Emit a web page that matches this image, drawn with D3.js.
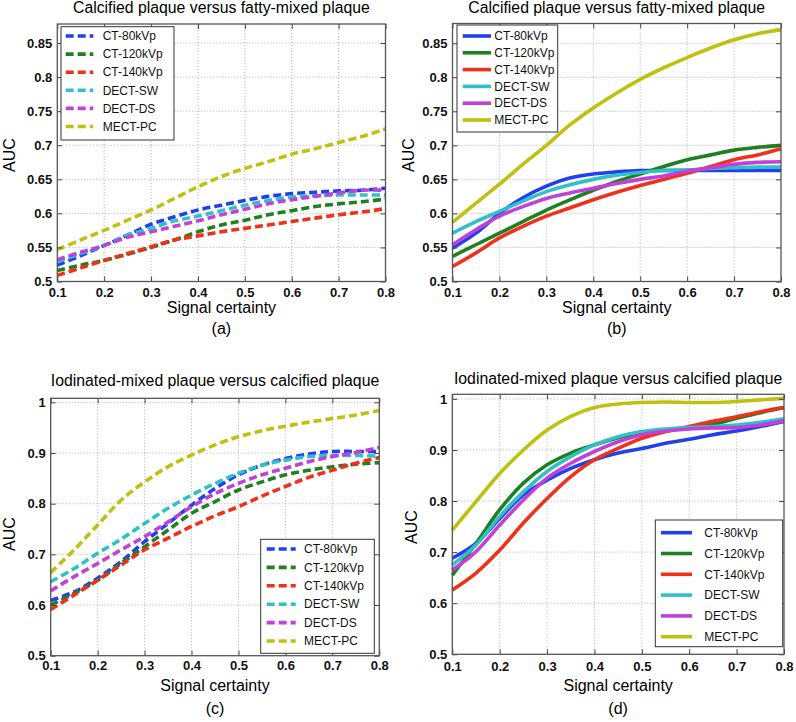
<!DOCTYPE html>
<html>
<head>
<meta charset="utf-8">
<script src="https://cdn.jsdelivr.net/npm/d3@7"></script>
<style>
  body { margin: 0; background: #fff; }
  svg { font-family: "Liberation Sans", Arial, Helvetica, sans-serif; }
</style>
</head>
<body>
<div id="chart"></div>
<script>
var svgWidth = 796;
var svgHeight = 722;

// x values (signal certainty)
var signal = [0.1, 0.15, 0.2, 0.25, 0.3, 0.35, 0.4, 0.45, 0.5, 0.55, 0.6, 0.65, 0.7, 0.75, 0.8];
var seriesNames = ["CT-80kVp", "CT-120kVp", "CT-140kVp", "DECT-SW", "DECT-DS", "MECT-PC"];
var seriesColors = ["#2040f0", "#1e8020", "#f03018", "#30c0c8", "#c040d8", "#c0c010"];

var titles = [
  "Calcified plaque versus fatty-mixed plaque",
  "Calcified plaque versus fatty-mixed plaque",
  "Iodinated-mixed plaque versus calcified plaque",
  "Iodinated-mixed plaque versus calcified plaque"
];
var panelTags = ["(a)", "(b)", "(c)", "(d)"];
var xTicks = [0.1, 0.2, 0.3, 0.4, 0.5, 0.6, 0.7, 0.8];
var yTicksTop = [0.5, 0.55, 0.6, 0.65, 0.7, 0.75, 0.8, 0.85];
var yTicksBottom = [0.5, 0.6, 0.7, 0.8, 0.9, 1];

// (a) dashed
var a_ct80  = [0.524, 0.538, 0.553, 0.568, 0.584, 0.595, 0.605, 0.612, 0.619, 0.625, 0.629, 0.631, 0.633, 0.634, 0.637];
var a_ct120 = [0.516, 0.524, 0.531, 0.540, 0.550, 0.561, 0.573, 0.583, 0.590, 0.598, 0.604, 0.610, 0.614, 0.617, 0.621];
var a_ct140 = [0.509, 0.520, 0.531, 0.541, 0.551, 0.561, 0.567, 0.573, 0.578, 0.583, 0.588, 0.593, 0.598, 0.602, 0.607];
var a_sw    = [0.529, 0.541, 0.553, 0.568, 0.578, 0.589, 0.596, 0.604, 0.612, 0.619, 0.624, 0.626, 0.627, 0.627, 0.627];
var a_ds    = [0.532, 0.543, 0.553, 0.565, 0.573, 0.581, 0.589, 0.598, 0.606, 0.614, 0.620, 0.625, 0.630, 0.634, 0.634];
var a_pc    = [0.547, 0.561, 0.575, 0.590, 0.605, 0.622, 0.639, 0.654, 0.666, 0.676, 0.687, 0.695, 0.704, 0.713, 0.724];

// (b) solid
var b_ct80  = [0.549, 0.571, 0.600, 0.623, 0.640, 0.652, 0.658, 0.661, 0.663, 0.663, 0.663, 0.663, 0.663, 0.663, 0.663];
var b_ct120 = [0.537, 0.554, 0.571, 0.588, 0.605, 0.620, 0.634, 0.647, 0.658, 0.669, 0.679, 0.686, 0.693, 0.697, 0.700];
var b_ct140 = [0.522, 0.542, 0.564, 0.581, 0.596, 0.608, 0.620, 0.631, 0.641, 0.650, 0.659, 0.669, 0.679, 0.686, 0.695];
var b_sw    = [0.571, 0.588, 0.603, 0.618, 0.632, 0.642, 0.650, 0.656, 0.660, 0.663, 0.664, 0.666, 0.667, 0.668, 0.668];
var b_ds    = [0.554, 0.576, 0.596, 0.610, 0.622, 0.630, 0.637, 0.644, 0.650, 0.655, 0.662, 0.667, 0.672, 0.675, 0.676];
var b_pc    = [0.587, 0.615, 0.643, 0.672, 0.700, 0.730, 0.755, 0.777, 0.797, 0.814, 0.829, 0.843, 0.855, 0.864, 0.870];

// (c) dashed
var c_ct80  = [0.609, 0.626, 0.653, 0.686, 0.725, 0.761, 0.797, 0.830, 0.857, 0.876, 0.889, 0.898, 0.903, 0.903, 0.903];
var c_ct120 = [0.600, 0.623, 0.649, 0.682, 0.715, 0.748, 0.781, 0.804, 0.827, 0.843, 0.857, 0.866, 0.873, 0.878, 0.881];
var c_ct140 = [0.591, 0.620, 0.649, 0.679, 0.709, 0.732, 0.755, 0.776, 0.794, 0.815, 0.834, 0.852, 0.866, 0.880, 0.891];
var c_sw    = [0.646, 0.672, 0.702, 0.730, 0.761, 0.791, 0.817, 0.840, 0.860, 0.876, 0.886, 0.893, 0.895, 0.895, 0.894];
var c_ds    = [0.628, 0.656, 0.682, 0.709, 0.735, 0.764, 0.794, 0.820, 0.840, 0.857, 0.870, 0.883, 0.893, 0.901, 0.911];
var c_pc    = [0.664, 0.709, 0.758, 0.807, 0.843, 0.873, 0.896, 0.916, 0.932, 0.944, 0.953, 0.961, 0.968, 0.975, 0.984];

// (d) solid
var d_ct80  = [0.688, 0.717, 0.766, 0.812, 0.841, 0.864, 0.881, 0.894, 0.903, 0.913, 0.921, 0.930, 0.937, 0.946, 0.956];
var d_ct120 = [0.655, 0.717, 0.783, 0.835, 0.871, 0.894, 0.910, 0.924, 0.934, 0.939, 0.943, 0.950, 0.962, 0.973, 0.983];
var d_ct140 = [0.626, 0.659, 0.704, 0.757, 0.805, 0.848, 0.881, 0.903, 0.923, 0.936, 0.946, 0.956, 0.965, 0.975, 0.983];
var d_sw    = [0.675, 0.714, 0.770, 0.818, 0.858, 0.887, 0.910, 0.926, 0.936, 0.941, 0.944, 0.946, 0.949, 0.954, 0.961];
var d_ds    = [0.665, 0.701, 0.753, 0.802, 0.845, 0.874, 0.897, 0.916, 0.930, 0.937, 0.941, 0.943, 0.944, 0.949, 0.957];
var d_pc    = [0.743, 0.799, 0.854, 0.900, 0.939, 0.966, 0.983, 0.990, 0.993, 0.994, 0.993, 0.993, 0.995, 0.998, 1.001];

// layout of each panel (pixels)
var panels = [
  { left: 57.3, right: 385.5, top: 24, bottom: 281.5, yMax: 0.878, yTicks: yTicksTop, dashed: true,
    series: [a_ct80, a_ct120, a_ct140, a_sw, a_ds, a_pc],
    titleY: 13, tickPad: 6.3, xlabY: 313, aucX: 15, aucY: 155, tagY: 334,
    legend: { x0: 61, y0: 26.7, x1: 174, y1: 140, first: 36, step: 18.1, l0: 65.7, l1: 93.3, tx: 102.7 } },
  { left: 452.5, right: 781, top: 23.5, bottom: 281.5, yMax: 0.879, yTicks: yTicksTop, dashed: false,
    series: [b_ct80, b_ct120, b_ct140, b_sw, b_ds, b_pc],
    titleY: 13, tickPad: 6.3, xlabY: 313, aucX: 414, aucY: 155, tagY: 334,
    legend: { x0: 457, y0: 25, x1: 557.7, y1: 132, first: 36, step: 16.8, l0: 462.7, l1: 491, tx: 494.3 } },
  { left: 50.7, right: 379.3, top: 398.3, bottom: 655.7, yMax: 1.008, yTicks: yTicksBottom, dashed: true,
    series: [c_ct80, c_ct120, c_ct140, c_sw, c_ds, c_pc],
    titleY: 386, tickPad: 5.5, xlabY: 691, aucX: 15, aucY: 534, tagY: 714,
    legend: { x0: 260.7, y0: 539.3, x1: 374.3, y1: 653.3, first: 549, step: 18.4, l0: 266.7, l1: 295.7, tx: 304 } },
  { left: 452.3, right: 784, top: 394.3, bottom: 654.3, yMax: 1.009, yTicks: yTicksBottom, dashed: false,
    series: [d_ct80, d_ct120, d_ct140, d_sw, d_ds, d_pc],
    titleY: 383.5, tickPad: 7, xlabY: 691, aucX: 417, aucY: 527, tagY: 714,
    legend: { x0: 655.3, y0: 520, x1: 782.7, y1: 646.7, first: 532.7, step: 20.8, l0: 661, l1: 692, tx: 704.3 } }
];

var svg = d3.select("#chart")
  .append("svg")
  .attr("width", svgWidth)
  .attr("height", svgHeight);

var fmt = function(d) { return String(+d.toFixed(2)); };

panels.forEach(function(p, i) {
  var w = p.right - p.left;
  var h = p.bottom - p.top;
  var xScale = d3.scaleLinear().domain([0.1, 0.8]).range([0, w]);
  var yScale = d3.scaleLinear().domain([0.5, p.yMax]).range([h, 0]);

  var g = svg.append("g").attr("transform", `translate(${p.left}, ${p.top})`);

  // dotted grid
  g.append("g").selectAll("line")
    .data(xTicks.slice(1, -1))
    .enter().append("line")
    .attr("x1", d => xScale(d)).attr("x2", d => xScale(d))
    .attr("y1", 0).attr("y2", h)
    .attr("stroke", "#9a9a9a").attr("stroke-width", 0.8)
    .attr("stroke-dasharray", "1,2");
  g.append("g").selectAll("line")
    .data(p.yTicks.slice(1))
    .enter().append("line")
    .attr("x1", 0).attr("x2", w)
    .attr("y1", d => yScale(d)).attr("y2", d => yScale(d))
    .attr("stroke", "#9a9a9a").attr("stroke-width", 0.8)
    .attr("stroke-dasharray", "1,2");

  // curves
  var line = d3.line()
    .x((d, j) => xScale(signal[j]))
    .y(d => yScale(d))
    .curve(d3.curveCatmullRom.alpha(0.5));

  p.series.forEach(function(s, k) {
    g.append("path")
      .datum(s)
      .attr("d", line)
      .attr("fill", "none")
      .attr("stroke", seriesColors[k])
      .attr("stroke-width", 3.6)
      .attr("stroke-dasharray", p.dashed ? "8,4" : null);
  });

  // axes with inward ticks
  var bottomAxis = d3.axisBottom(xScale).tickValues(xTicks).tickSize(-5).tickPadding(p.tickPad).tickFormat(fmt);
  var leftAxis = d3.axisLeft(yScale).tickValues(p.yTicks).tickSize(-5).tickPadding(5).tickFormat(fmt);
  var topAxis = d3.axisTop(xScale).tickValues(xTicks).tickSize(-5).tickFormat("");
  var rightAxis = d3.axisRight(yScale).tickValues(p.yTicks).tickSize(-5).tickFormat("");

  [
    g.append("g").attr("transform", `translate(0, ${h})`).call(bottomAxis),
    g.append("g").call(leftAxis),
    g.append("g").call(topAxis),
    g.append("g").attr("transform", `translate(${w}, 0)`).call(rightAxis)
  ].forEach(function(ax) {
    ax.select(".domain").remove();
    ax.selectAll("line").attr("stroke", "#444");
    ax.selectAll("text")
      .attr("fill", "#111")
      .style("font-size", "13px")
      .style("font-weight", "bold");
  });

  // frame
  g.append("rect")
    .attr("width", w).attr("height", h)
    .attr("fill", "none")
    .attr("stroke", "#555")
    .attr("stroke-width", 1.3);

  // title and labels
  svg.append("text")
    .attr("x", p.left + w / 2).attr("y", p.titleY)
    .attr("text-anchor", "middle")
    .style("font-size", "15.8px")
    .text(titles[i]);

  svg.append("text")
    .attr("x", p.left + w / 2).attr("y", p.xlabY)
    .attr("text-anchor", "middle")
    .style("font-size", "16px")
    .text("Signal certainty");

  svg.append("text")
    .attr("transform", `translate(${p.aucX}, ${p.aucY}) rotate(-90)`)
    .attr("text-anchor", "middle")
    .style("font-size", "16px")
    .text("AUC");

  svg.append("text")
    .attr("x", p.left + w / 2).attr("y", p.tagY)
    .attr("text-anchor", "middle")
    .style("font-size", "16px")
    .text(panelTags[i]);

  // legend
  var L = p.legend;
  var lg = svg.append("g");
  lg.append("rect")
    .attr("x", L.x0).attr("y", L.y0)
    .attr("width", L.x1 - L.x0).attr("height", L.y1 - L.y0)
    .attr("fill", "#fff").attr("stroke", "#333").attr("stroke-width", 1);

  seriesNames.forEach(function(name, k) {
    var yy = L.first + k * L.step;
    lg.append("line")
      .attr("x1", L.l0).attr("x2", L.l1)
      .attr("y1", yy).attr("y2", yy)
      .attr("stroke", seriesColors[k])
      .attr("stroke-width", 3.6)
      .attr("stroke-dasharray", p.dashed ? "8,4" : null);
    lg.append("text")
      .attr("x", L.tx).attr("y", yy)
      .attr("dy", "0.35em")
      .style("font-size", "12px")
      .attr("fill", "#111")
      .text(name);
  });
});
</script>
</body>
</html>
